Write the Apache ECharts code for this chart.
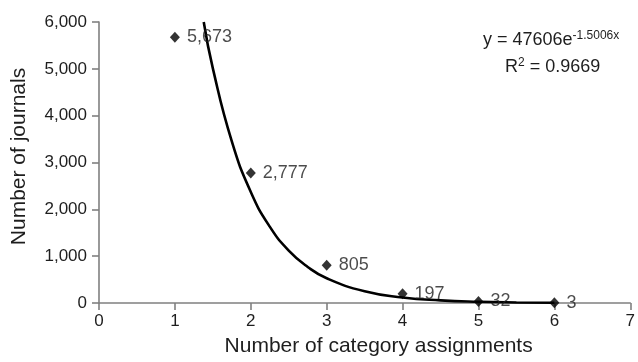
<!DOCTYPE html>
<html><head><meta charset="utf-8">
<script src="https://cdn.jsdelivr.net/npm/echarts@6/dist/echarts.min.js"></script>
<style>html,body{margin:0;padding:0;background:#fff}#c{width:638px;height:362px}</style>
</head><body><div id="c"></div>
<script>
const assignments = [1, 2, 3, 4, 5, 6];
const journals = [5673, 2777, 805, 197, 32, 3];
const trendX = [1.38, 1.5, 1.75, 2, 2.25, 2.5, 2.75, 3, 3.5, 4, 4.5, 5, 5.5, 6];
const trendY = [6000, 5010, 3450, 2370, 1630, 1120, 770, 528, 250, 118, 56, 26, 12, 6];
const xTicks = [0, 1, 2, 3, 4, 5, 6, 7];
const yTicks = [0, 1000, 2000, 3000, 4000, 5000, 6000];

const font = 'Liberation Sans, Arial, sans-serif';
const txt = '#1e1e1e';
const chart = echarts.init(document.getElementById('c'));
chart.setOption({
  animation: false,
  grid: { left: 99, right: 6, top: 22, bottom: 50 },
  xAxis: {
    type: 'value', min: xTicks[0], max: xTicks[xTicks.length - 1], interval: 1,
    name: 'Number of category assignments', nameLocation: 'middle', nameGap: 33,
    nameTextStyle: { fontFamily: font, fontSize: 21, color: txt, padding: [0, 0, 0, 28] },
    axisLine: { lineStyle: { color: '#808080', width: 1.6 } },
    axisTick: { show: true, inside: false, length: 7, lineStyle: { color: '#808080', width: 1.6 } },
    axisLabel: { fontFamily: font, fontSize: 17, color: txt, margin: 10, formatter: v => String(v) },
    splitLine: { show: false }
  },
  yAxis: {
    type: 'value', min: yTicks[0], max: yTicks[yTicks.length - 1], interval: 1000,
    name: 'Number of journals', nameLocation: 'middle', nameGap: 69, nameRotate: 90,
    nameTextStyle: { fontFamily: font, fontSize: 21, color: txt, padding: [0, 0, 0, 12] },
    axisLine: { show: true, lineStyle: { color: '#808080', width: 1.6 } },
    axisTick: { show: true, inside: false, length: 7, lineStyle: { color: '#808080', width: 1.6 } },
    axisLabel: { fontFamily: font, fontSize: 17, color: txt, margin: 12,
      formatter: v => v.toLocaleString('en-US') },
    splitLine: { show: false }
  },
  series: [
    {
      type: 'line', smooth: true, showSymbol: false, symbol: 'none',
      data: trendX.map((x, i) => [x, trendY[i]]),
      lineStyle: { color: '#000', width: 2.6 }, z: 2
    },
    {
      type: 'scatter', symbol: 'diamond', symbolSize: [10, 11],
      data: assignments.map((x, i) => [x, journals[i]]),
      itemStyle: { color: '#000' },
      label: { show: true, position: 'right', distance: 7, fontFamily: font, fontSize: 18, color: txt,
        formatter: p => p.value[1].toLocaleString('en-US') },
      z: 3
    }
  ],
  graphic: [
    { type: 'text', left: 483, top: 30, style: {
      rich: { a: { fontFamily: font, fontSize: 18, fill: txt }, s: { fontFamily: font, fontSize: 12, fill: txt, verticalAlign: 'top', padding: [0, 0, 8, 0] } },
      text: '{a|y = 47606e}{s|-1.5006x}' } },
    { type: 'text', left: 505, top: 57, style: {
      rich: { a: { fontFamily: font, fontSize: 18, fill: txt }, s: { fontFamily: font, fontSize: 12, fill: txt, padding: [0, 0, 8, 0] } },
      text: '{a|R}{s|2}{a| = 0.9669}' } }
  ]
});
</script></body></html>
